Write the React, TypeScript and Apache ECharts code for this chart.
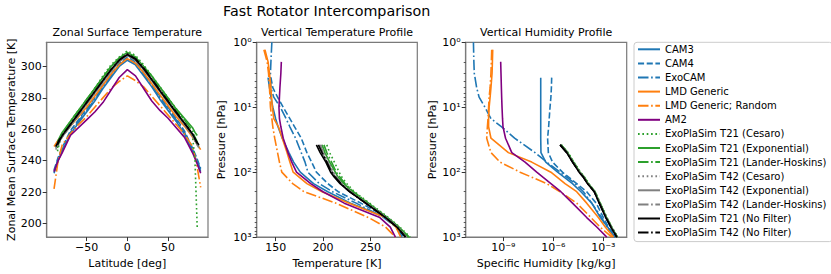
import React, { useEffect, useRef } from 'react';
import * as echarts from 'echarts';

// ---------- Surface temperature vs latitude ----------
const LAT_GCM = [-90, -85, -80, -70, -60, -50, -40, -30, -20, -10, 0, 10, 20, 30, 40, 50, 60, 70, 80, 85, 90];
const LAT_T21 = [-85.8, -83, -80, -70, -60, -50, -40, -30, -20, -10, 0, 10, 20, 30, 40, 50, 60, 70, 80, 83, 85.8];
const LAT_T42 = [-87.9, -84, -80, -70, -60, -50, -40, -30, -20, -10, 0, 10, 20, 30, 40, 50, 60, 70, 80, 84, 87.9];

const TS_CAM3 = [232, 240, 246, 257, 264, 271, 278, 286, 293, 300, 304, 301, 294, 287, 279, 272, 265, 257, 246, 240, 233];
const TS_CAM4 = [234, 242, 248, 259, 266, 273, 280, 288, 295, 302, 306, 303, 296, 289, 281, 274, 267, 259, 248, 242, 235];
const TS_EXOCAM = [233, 241, 247, 258, 265, 272, 279, 287, 294, 301, 305, 302, 295, 288, 280, 273, 266, 258, 247, 241, 234];
const TS_LMD = [249, 253, 256, 262, 268, 274, 281, 288, 295, 301, 305, 302, 296, 289, 282, 275, 268, 262, 255, 251, 247];
const TS_LMDR = [222, 240, 250, 257, 263, 268, 274, 280, 286, 290.5, 294, 291, 287, 281, 275, 269, 263, 257, 249, 238, 223];
const TS_AM2 = [233, 240, 245, 256, 261, 266, 271, 277, 285, 293, 298, 294, 286, 278, 272, 267, 261, 255, 245, 239, 232];
const TS_T21C = [246, 252, 256, 265, 272, 279, 286, 294, 301, 306, 310, 307, 301, 294, 287, 280, 273, 266, 256, 240, 197];
const TS_T21E = [252, 255, 258, 265, 272, 279, 286, 293, 300, 305.5, 309, 306, 300, 294, 287, 280, 273, 267, 261, 258, 256];
const TS_T21L = [248, 253, 257, 265, 272, 279, 286, 293, 300, 305, 308.5, 305.5, 300, 293, 286, 279, 272, 266, 259, 255, 252];
const TS_T42C = [247, 251, 255, 263, 270, 277, 284, 291, 298, 304, 308, 305, 299, 292, 285, 278, 271, 264, 256, 252, 248];
const TS_T42E = [249, 252, 255, 262, 269, 276, 283, 290, 297, 303, 307, 304, 298, 291, 284, 277, 270, 263, 256, 252, 249];
const TS_T42L = [248, 252, 255, 262, 269, 276, 283, 290, 297, 303, 307.5, 304, 298, 291, 284, 277, 270, 263, 256, 252, 248];
const TS_T21N = [250, 253, 256, 263, 270, 277, 284, 291, 298, 304, 307.6, 304.5, 298.5, 291.5, 284.5, 277.5, 270.5, 264, 257, 254, 251];
const TS_T42N = [249, 253, 256, 263, 270, 277, 284, 291, 298, 304, 308, 305, 299, 292, 285, 278, 271, 264, 257, 253, 250];

// ---------- Pressure levels [hPa] ----------
const P_CAM = [3.5, 5, 7, 10, 15, 20, 30, 50, 70, 100, 150, 200, 300, 500, 700, 1000];
const P_EXOCAM = [1, 2, 3, 5, 7, 10, 15, 20, 30, 50, 70, 100, 150, 200, 300, 500, 700, 1000];
const P_LMD = [1.3, 2, 3, 5, 7, 10, 15, 20, 30, 50, 70, 100, 150, 200, 300, 500, 700, 1000];
const P_AM2 = [2, 3, 5, 7, 10, 15, 20, 30, 50, 70, 100, 150, 200, 300, 500, 700, 1000];
const P_EXO = [38, 50, 70, 100, 120, 150, 200, 300, 500, 700, 1000];

// ---------- Temperature profiles [K] ----------
const T_CAM3 = [142, 143.5, 145, 147, 150, 152.5, 157, 164, 169, 176, 190, 205, 229, 267, 278, 283];
const T_CAM4 = [145, 147, 152, 158, 165, 170, 177, 183, 188, 193, 205, 216, 240, 268, 279, 285];
const T_EXOCAM = [146, 145, 144.5, 145, 148, 155, 161, 165, 171, 177, 181, 184, 196, 210, 235, 264, 277, 284];
const T_LMD = [138.7, 142, 143.5, 145, 145.7, 146.5, 148, 153, 157, 162, 165, 168.5, 183, 199, 227.6, 266, 277, 282];
const T_LMDR = [137.6, 141, 142.5, 143.5, 144, 144.5, 146, 147, 149, 152, 154, 156.5, 168, 180, 213.7, 248, 266, 276.5];
const T_AM2 = [156, 155.5, 154.5, 154, 153.5, 154, 155.5, 158, 163, 167, 172, 187, 200, 222.4, 260, 271, 276.4];
const T_T21C = [204, 207, 212, 217, 220, 225, 233, 249, 269, 281, 292];
const T_T21E = [199, 202, 207, 213, 216, 222, 231, 247, 268, 280, 290];
const T_T21L = [201, 204, 209, 214, 218, 223, 232, 248, 268, 280, 291];
const T_T42C = [198, 201, 206, 211, 215, 220, 229, 246, 267, 279, 288];
const T_T42E = [196, 199, 204, 210, 213, 219, 228, 245, 266, 278, 287];
const T_T42L = [197, 200, 205, 210, 214, 219, 229, 246, 267, 279, 288];
const T_T21N = [193, 197, 203, 208, 212, 218, 228, 245, 266, 278, 287];
const T_T42N = [195, 199, 204, 209, 213, 219, 228, 245, 266, 278, 287];

// ---------- Specific humidity profiles [kg/kg] ----------
const Q_CAM3 = [1.74e-7, 1.74e-7, 1.74e-7, 1.74e-7, 1.74e-7, 1.74e-7, 1.74e-7, 1.8e-7, 3.5e-7, 1.8e-6, 1.4e-5, 4.5e-5, 2.0e-4, 6.6e-4, 1.8e-3, 5.0e-3];
const Q_CAM4 = [7.9e-7, 7.6e-7, 7.1e-7, 6.3e-7, 5.6e-7, 5.2e-7, 4.5e-7, 5.0e-7, 8.9e-7, 3.5e-6, 2.5e-5, 1.0e-4, 3.7e-4, 1.0e-3, 2.0e-3, 6.3e-3];
const Q_EXOCAM = [1.6e-11, 1.7e-11, 1.8e-11, 2.5e-11, 3.5e-11, 7.9e-11, 1.8e-10, 7.9e-10, 4.7e-9, 7.9e-8, 4.0e-7, 2.5e-6, 2.0e-5, 6.3e-5, 2.0e-4, 7.9e-4, 1.6e-3, 5.0e-3];
const Q_LMD = [2.3e-10, 2.2e-10, 2.1e-10, 1.8e-10, 1.6e-10, 1.4e-10, 1.3e-10, 1.3e-10, 1.8e-10, 2.0e-9, 5.0e-8, 7.1e-7, 5.0e-6, 2.5e-5, 1.0e-4, 5.0e-4, 1.3e-3, 4.0e-3];
const Q_LMDR = [2.0e-10, 1.9e-10, 1.8e-10, 1.6e-10, 1.4e-10, 1.3e-10, 1.2e-10, 1.1e-10, 1.0e-10, 1.8e-10, 6.3e-10, 1.0e-8, 4.0e-7, 2.5e-6, 2.5e-5, 1.8e-4, 6.3e-4, 3.2e-3];
const Q_AM2 = [6.9e-10, 7.2e-10, 7.6e-10, 7.9e-10, 8.3e-10, 8.9e-10, 9.5e-10, 1.35e-9, 3.2e-9, 2.0e-8, 1.0e-7, 7.1e-7, 2.8e-6, 1.4e-5, 1.0e-4, 4.0e-4, 1.6e-3];
const Q_T21C = [3.0e-6, 7.5e-6, 1.7e-5, 4.2e-5, 7.5e-5, 1.3e-4, 3.2e-4, 6.5e-4, 1.6e-3, 3.2e-3, 7.1e-3];
const Q_T21E = [2.9e-6, 7.2e-6, 1.6e-5, 4.0e-5, 7.2e-5, 1.25e-4, 3.1e-4, 6.3e-4, 1.55e-3, 3.1e-3, 7.0e-3];
const Q_T21L = [2.9e-6, 7.3e-6, 1.65e-5, 4.1e-5, 7.3e-5, 1.27e-4, 3.15e-4, 6.4e-4, 1.57e-3, 3.15e-3, 7.0e-3];
const Q_T42C = [2.7e-6, 6.8e-6, 1.5e-5, 3.8e-5, 6.8e-5, 1.18e-4, 3.0e-4, 6.0e-4, 1.5e-3, 3.0e-3, 6.7e-3];
const Q_T42E = [2.6e-6, 6.5e-6, 1.45e-5, 3.6e-5, 6.5e-5, 1.13e-4, 2.9e-4, 5.8e-4, 1.45e-3, 2.9e-3, 6.5e-3];
const Q_T42L = [2.6e-6, 6.6e-6, 1.47e-5, 3.7e-5, 6.6e-5, 1.15e-4, 2.9e-4, 5.9e-4, 1.47e-3, 2.95e-3, 6.6e-3];
const Q_T21N = [2.5e-6, 6.3e-6, 1.4e-5, 3.5e-5, 6.3e-5, 1.1e-4, 2.8e-4, 5.6e-4, 1.4e-3, 2.8e-3, 6.3e-3];
const Q_T42N = [2.55e-6, 6.4e-6, 1.42e-5, 3.55e-5, 6.4e-5, 1.12e-4, 2.85e-4, 5.7e-4, 1.42e-3, 2.85e-3, 6.4e-3];

// ---------- tick values ----------
const LAT_TICKS = [-50, 0, 50];
const TS_TICKS = [200, 220, 240, 260, 280, 300];
const T_TICKS = [150, 200, 250];
const P_TICKS = [1, 10, 100, 1000];
const P_MINOR = [2, 3, 4, 5, 6, 7, 8, 9, 20, 30, 40, 50, 60, 70, 80, 90, 200, 300, 400, 500, 600, 700, 800, 900];
const Q_TICKS = [1e-9, 1e-6, 1e-3];

// ---------- styles ----------
const BLUE = '#1f77b4';
const ORANGE = '#ff7f0e';
const PURPLE = '#800080';
const GREEN = '#2ca02c';
const GREY = '#808080';
const BLACK = '#000000';
const LW = 1.6;
const SOLID: any = 'solid';
const DASHED = [6.1, 2.6];
const DASHDOT = [10.5, 2.6, 1.65, 2.6];
const DOTTED = [1.65, 2.7];
const FONT = 'DejaVu Sans';
const FRAME = '#7a7a7a';

type Model = {
  name: string; color: string; dash: any;
  lat: number[]; ts: number[]; p: number[]; t: number[]; q: number[];
};

const MODELS: Model[] = [
  { name: 'CAM3', color: BLUE, dash: SOLID, lat: LAT_GCM, ts: TS_CAM3, p: P_CAM, t: T_CAM3, q: Q_CAM3 },
  { name: 'CAM4', color: BLUE, dash: DASHED, lat: LAT_GCM, ts: TS_CAM4, p: P_CAM, t: T_CAM4, q: Q_CAM4 },
  { name: 'ExoCAM', color: BLUE, dash: DASHDOT, lat: LAT_GCM, ts: TS_EXOCAM, p: P_EXOCAM, t: T_EXOCAM, q: Q_EXOCAM },
  { name: 'LMD Generic', color: ORANGE, dash: SOLID, lat: LAT_GCM, ts: TS_LMD, p: P_LMD, t: T_LMD, q: Q_LMD },
  { name: 'LMD Generic; Random', color: ORANGE, dash: DASHDOT, lat: LAT_GCM, ts: TS_LMDR, p: P_LMD, t: T_LMDR, q: Q_LMDR },
  { name: 'AM2', color: PURPLE, dash: SOLID, lat: LAT_GCM, ts: TS_AM2, p: P_AM2, t: T_AM2, q: Q_AM2 },
  { name: 'ExoPlaSim T21 (Cesaro)', color: GREEN, dash: DOTTED, lat: LAT_T21, ts: TS_T21C, p: P_EXO, t: T_T21C, q: Q_T21C },
  { name: 'ExoPlaSim T21 (Exponential)', color: GREEN, dash: SOLID, lat: LAT_T21, ts: TS_T21E, p: P_EXO, t: T_T21E, q: Q_T21E },
  { name: 'ExoPlaSim T21 (Lander-Hoskins)', color: GREEN, dash: DASHDOT, lat: LAT_T21, ts: TS_T21L, p: P_EXO, t: T_T21L, q: Q_T21L },
  { name: 'ExoPlaSim T42 (Cesaro)', color: GREY, dash: DOTTED, lat: LAT_T42, ts: TS_T42C, p: P_EXO, t: T_T42C, q: Q_T42C },
  { name: 'ExoPlaSim T42 (Exponential)', color: GREY, dash: SOLID, lat: LAT_T42, ts: TS_T42E, p: P_EXO, t: T_T42E, q: Q_T42E },
  { name: 'ExoPlaSim T42 (Lander-Hoskins)', color: GREY, dash: DASHDOT, lat: LAT_T42, ts: TS_T42L, p: P_EXO, t: T_T42L, q: Q_T42L },
  { name: 'ExoPlaSim T21 (No Filter)', color: BLACK, dash: SOLID, lat: LAT_T21, ts: TS_T21N, p: P_EXO, t: T_T21N, q: Q_T21N },
  { name: 'ExoPlaSim T42 (No Filter)', color: BLACK, dash: DASHDOT, lat: LAT_T42, ts: TS_T42N, p: P_EXO, t: T_T42N, q: Q_T42N },
];

const SUP: Record<string, string> = {
  '0': '\u2070', '1': '\u00b9', '2': '\u00b2', '3': '\u00b3', '4': '\u2074',
  '5': '\u2075', '6': '\u2076', '7': '\u2077', '8': '\u2078', '9': '\u2079', '-': '\u207b',
};
const pow10 = (v: number) => {
  const e = Math.round(Math.log10(v));
  return '10' + String(e).split('').map((c) => SUP[c]).join('');
};
const minus = (v: number) => (v < 0 ? '\u2212' + Math.abs(v) : String(v));

const GRID_TOP = 42.3;
const GRID_H = 194.9;

const labelStyle = { fontFamily: FONT, fontSize: 11, color: '#000' };
const nameStyle = { fontFamily: FONT, fontSize: 11, color: '#000' };
const TICK = { show: true, length: 4, lineStyle: { color: '#333', width: 1 } };

function axisBase(extra: any) {
  return {
    axisLine: { show: true, onZero: false, lineStyle: { color: FRAME, width: 1.2 } },
    splitLine: { show: false },
    nameLocation: 'middle',
    nameTextStyle: nameStyle,
    ...extra,
    axisLabel: { ...labelStyle, margin: 5, ...(extra.axisLabel || {}) },
  };
}

function buildOption() {
  const series: any[] = [];
  MODELS.forEach((m) => {
    const ls = { color: m.color, width: LW, type: m.dash };
    const common = {
      name: m.name, type: 'line', symbol: 'none', showSymbol: false,
      lineStyle: ls, itemStyle: { color: m.color }, silent: true, animation: false,
    };
    series.push({ ...common, xAxisIndex: 0, yAxisIndex: 0, data: m.lat.map((la, i) => [la, m.ts[i]]) });
    series.push({ ...common, xAxisIndex: 1, yAxisIndex: 1, data: m.p.map((p, i) => [m.t[i], p]) });
    series.push({ ...common, xAxisIndex: 2, yAxisIndex: 2, data: m.p.map((p, i) => [m.q[i], p]) });
  });

  const subTitle = { fontFamily: FONT, fontSize: 11, fontWeight: 'normal', color: '#000' };

  return {
    animation: false,
    backgroundColor: '#ffffff',
    title: [
      { text: 'Fast Rotator Intercomparison', left: 326.7, top: 4, textAlign: 'center', padding: 0,
        textStyle: { fontFamily: FONT, fontSize: 14.3, fontWeight: 'normal', color: '#000' } },
      { text: 'Zonal Surface Temperature', left: 127.3, top: 27, textAlign: 'center', padding: 0, textStyle: subTitle },
      { text: 'Vertical Temperature Profile', left: 337, top: 27, textAlign: 'center', padding: 0, textStyle: subTitle },
      { text: 'Vertical Humidity Profile', left: 546.2, top: 27, textAlign: 'center', padding: 0, textStyle: subTitle },
    ],
    legend: {
      orient: 'vertical', left: 634, top: 42.3, itemWidth: 22, itemHeight: 10, itemGap: 4.1,
      padding: [2, 6, 4, 3], backgroundColor: '#ffffff', borderColor: '#cccccc', borderWidth: 1, borderRadius: 3,
      textStyle: { fontFamily: FONT, fontSize: 10, color: '#000', lineHeight: 10 },
      itemStyle: { opacity: 0, borderWidth: 0 },
      data: MODELS.map((m) => m.name), selectedMode: false,
    },
    grid: [
      { left: 46.7, top: GRID_TOP, width: 161.3, height: GRID_H, show: true, borderColor: FRAME, borderWidth: 1.2, backgroundColor: 'transparent' },
      { left: 256.7, top: GRID_TOP, width: 160.6, height: GRID_H, show: true, borderColor: FRAME, borderWidth: 1.2, backgroundColor: 'transparent' },
      { left: 465.7, top: GRID_TOP, width: 161, height: GRID_H, show: true, borderColor: FRAME, borderWidth: 1.2, backgroundColor: 'transparent' },
    ],
    xAxis: [
      axisBase({ type: 'value', gridIndex: 0, min: -99, max: 99, name: 'Latitude [deg]', nameGap: 18,
        axisLabel: { customValues: LAT_TICKS, formatter: (v: number) => minus(v) },
        axisTick: { ...TICK, customValues: LAT_TICKS } }),
      axisBase({ type: 'value', gridIndex: 1, min: 130, max: 299.5, name: 'Temperature [K]', nameGap: 18,
        axisLabel: { customValues: T_TICKS },
        axisTick: { ...TICK, customValues: T_TICKS } }),
      axisBase({ type: 'log', logBase: 10, gridIndex: 2, min: 5.5e-12, max: 0.025, name: 'Specific Humidity [kg/kg]', nameGap: 18,
        axisLabel: { customValues: Q_TICKS, formatter: (v: number) => pow10(v) },
        axisTick: { ...TICK, customValues: Q_TICKS } }),
    ],
    yAxis: [
      axisBase({ type: 'value', gridIndex: 0, min: 191.3, max: 315.4, name: 'Zonal Mean Surface Temperature [K]', nameGap: 30,
        axisLabel: { customValues: TS_TICKS },
        axisTick: { ...TICK, customValues: TS_TICKS } }),
      axisBase({ type: 'log', logBase: 10, gridIndex: 1, min: 1, max: 1000, inverse: true, name: 'Pressure [hPa]', nameGap: 30,
        axisLabel: { customValues: P_TICKS, formatter: (v: number) => pow10(v) },
        axisTick: { ...TICK, customValues: P_TICKS } }),
      axisBase({ type: 'log', logBase: 10, gridIndex: 2, min: 1, max: 1000, inverse: true, name: 'Pressure [hPa]', nameGap: 28,
        axisLabel: { customValues: P_TICKS, formatter: (v: number) => pow10(v) },
        axisTick: { ...TICK, customValues: P_TICKS } }),
      {
        type: 'log', logBase: 10, gridIndex: 1, min: 1, max: 1000, inverse: true, position: 'left', offset: 0,
        axisLine: { show: false }, axisLabel: { show: false }, splitLine: { show: false },
        axisTick: { show: true, length: 2, lineStyle: { color: '#333', width: 0.8 }, customValues: P_MINOR },
      },
      {
        type: 'log', logBase: 10, gridIndex: 2, min: 1, max: 1000, inverse: true, position: 'left', offset: 0,
        axisLine: { show: false }, axisLabel: { show: false }, splitLine: { show: false },
        axisTick: { show: true, length: 2, lineStyle: { color: '#333', width: 0.8 }, customValues: P_MINOR },
      },
    ],
    series,
  };
}

export default function App() {
  const ref = useRef<HTMLDivElement>(null);
  useEffect(() => {
    if (!ref.current) return;
    const chart = echarts.init(ref.current, null, { renderer: 'svg' });
    chart.setOption(buildOption() as any);
    return () => chart.dispose();
  }, []);
  return (
    <div
      ref={ref}
      style={{ position: 'absolute', left: 0, top: 0, width: 831, height: 274, background: '#fff' }}
    />
  );
}
